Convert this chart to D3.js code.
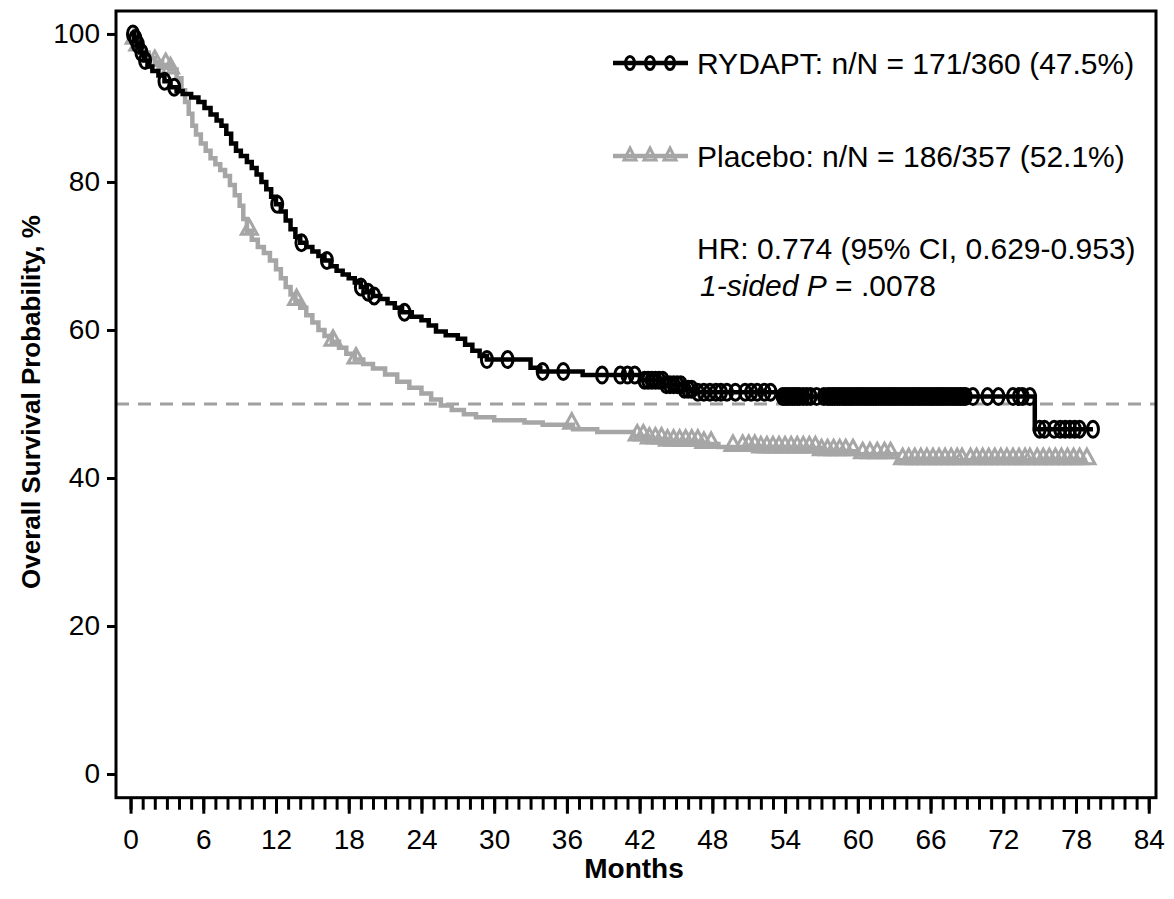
<!DOCTYPE html>
<html>
<head>
<meta charset="utf-8">
<script src="https://cdn.jsdelivr.net/npm/d3@7"></script>
<style>
  body { margin: 0; background: #fff; }
  text { font-family: "Liberation Sans", Arial, sans-serif; }
</style>
</head>
<body>
<div id="km"></div>
<script>
// KM step data (months, survival %)
var rydaptTime = [0, 0.3, 0.5, 0.8, 1.1, 1.4, 1.8, 2.3, 2.8, 3.3, 3.8, 4.3, 5.0, 5.6, 6.1, 6.6, 7.1, 7.5, 7.9, 8.3, 8.7, 9.1, 9.6, 10.0, 10.4, 10.8, 11.2, 11.6, 12.0, 12.4, 12.8, 13.2, 13.6, 14.0, 14.5, 15.0, 15.5, 16.0, 16.5, 17.0, 17.5, 18.0, 18.5, 19.0, 19.5, 20.0, 20.6, 21.2, 21.8, 22.4, 23.2, 24.0, 24.6, 25.2, 26.0, 27.0, 27.6, 28.2, 28.8, 29.4, 33.0, 33.8, 37.3, 42.2, 44.0, 45.6, 46.5, 53.6, 74.6, 79.4];
var rydaptSurv = [100, 99.4, 98.6, 97.5, 96.4, 95.6, 95.0, 94.4, 93.6, 92.8, 92.3, 91.9, 91.4, 90.8, 90.0, 89.1, 88.3, 87.6, 86.5, 85.2, 84.2, 83.5, 82.7, 81.9, 81.0, 80.0, 79.0, 78.0, 77.0, 76.0, 74.8, 73.6, 72.6, 71.8, 71.2, 70.6, 70.0, 69.4, 68.6, 68.0, 67.5, 67.0, 66.4, 65.8, 65.1, 64.6, 64.2, 63.6, 63.0, 62.4, 61.8, 61.3, 60.6, 59.8, 59.3, 58.8, 58.0, 57.2, 56.5, 56.0, 54.9, 54.4, 53.9, 53.2, 52.6, 52.0, 51.6, 51.0, 46.6, 46.6];
var rydaptCensor = [0.2, 0.4, 0.6, 0.9, 1.2, 2.8, 3.6, 12.1, 14.1, 16.2, 19.0, 19.6, 20.1, 22.6, 29.4, 31.1, 34.0, 35.7, 38.9, 40.4, 41.0, 41.6, 42.4, 42.7, 43.0, 43.3, 43.6, 43.9, 44.2, 44.5, 44.8, 45.1, 45.4, 45.7, 46.0, 46.3, 46.8, 47.3, 47.8, 48.3, 48.7, 49.2, 49.9, 50.7, 51.2, 51.7, 52.3, 52.8, 53.8, 54.0, 54.2, 54.4, 54.6, 54.8, 55.0, 55.2, 55.5, 55.8, 56.1, 56.6, 57.2, 57.5, 57.7, 57.9, 58.1, 58.3, 58.5, 58.7, 58.9, 59.1, 59.3, 59.5, 59.7, 59.9, 60.1, 60.3, 60.5, 60.7, 60.9, 61.1, 61.3, 61.5, 61.7, 61.9, 62.1, 62.3, 62.5, 62.7, 62.9, 63.1, 63.3, 63.5, 63.7, 63.9, 64.1, 64.3, 64.5, 64.7, 64.9, 65.1, 65.3, 65.5, 65.7, 65.9, 66.1, 66.3, 66.5, 66.7, 66.9, 67.1, 67.3, 67.5, 67.7, 67.9, 68.1, 68.3, 68.5, 68.7, 68.9, 69.5, 70.7, 71.6, 72.8, 73.3, 73.6, 74.2, 75.0, 75.4, 76.2, 76.7, 77.1, 77.5, 77.9, 78.3, 79.4];

var placeboTime = [0, 0.3, 0.6, 1.0, 1.5, 2.0, 2.6, 3.2, 3.8, 4.2, 4.5, 4.8, 5.1, 5.4, 5.8, 6.2, 6.6, 7.0, 7.4, 7.8, 8.2, 8.6, 9.0, 9.3, 9.6, 10.0, 10.5, 11.0, 11.5, 12.0, 12.4, 12.8, 13.2, 13.6, 14.0, 14.5, 15.0, 15.5, 16.0, 16.6, 17.2, 17.8, 18.5, 19.2, 20.0, 21.0, 22.0, 23.0, 24.0, 24.8, 25.6, 26.5, 27.5, 28.5, 30.0, 32.5, 34.0, 36.5, 38.5, 41.5, 42.5, 44.0, 47.0, 48.5, 52.0, 57.0, 60.0, 63.3, 78.9];
var placeboSurv = [100, 99.2, 98.3, 97.5, 96.8, 96.2, 95.8, 95.2, 94.0, 92.4, 90.8, 89.2, 87.6, 86.4, 85.2, 84.2, 83.2, 82.4, 81.6, 80.8, 79.6, 78.2, 76.8, 75.0, 73.4, 72.2, 71.2, 70.4, 69.4, 68.2, 67.0, 65.8, 64.8, 63.9, 63.0, 62.0, 61.0, 60.0, 59.2, 58.4, 57.6, 56.8, 56.0, 55.4, 54.8, 54.0, 53.0, 52.2, 51.4, 50.6, 49.8, 49.2, 48.6, 48.2, 47.8, 47.5, 47.2, 46.6, 46.2, 45.6, 45.2, 44.9, 44.6, 44.2, 44.0, 43.6, 43.2, 42.4, 42.4];
var placeboCensor = [0.3, 0.6, 2.0, 2.9, 3.3, 9.8, 13.7, 16.7, 18.6, 36.4, 41.8, 42.3, 42.8, 43.3, 43.8, 44.3, 44.8, 45.3, 45.8, 46.3, 46.8, 47.3, 47.9, 49.7, 50.5, 51.0, 51.5, 52.0, 52.5, 53.0, 53.5, 54.0, 54.5, 55.0, 55.5, 56.0, 56.5, 57.0, 57.5, 58.0, 58.5, 59.0, 59.6, 60.4, 61.0, 61.6, 62.2, 62.7, 63.7, 64.2, 64.7, 65.2, 65.7, 66.2, 66.7, 67.2, 67.7, 68.2, 68.6, 69.3, 69.8, 70.3, 70.8, 71.3, 71.8, 72.3, 72.8, 73.3, 73.8, 74.2, 74.8, 75.3, 75.8, 76.3, 76.8, 77.3, 77.8, 78.3, 78.9];

var xTicks = [0, 6, 12, 18, 24, 30, 36, 42, 48, 54, 60, 66, 72, 78, 84];
var xMinorTicks = d3.range(0, 85, 1);
var yTicks = [0, 20, 40, 60, 80, 100];
var legendLabels = ["RYDAPT: n/N = 171/360 (47.5%)", "Placebo: n/N = 186/357 (52.1%)"];
var hrText = "HR: 0.774 (95% CI, 0.629-0.953)";

var svgWidth = 1174;
var svgHeight = 899;

var black = "#000000";
var grey = "#a6a6a6";

var svg = d3.select("#km")
    .append("svg")
    .attr("width", svgWidth)
    .attr("height", svgHeight);

// scales
var xScale = d3.scaleLinear().domain([-1.2, 84.6]).range([116, 1156]);
var yScale = d3.scaleLinear().domain([-3.2, 103.1]).range([797.7, 11]);

// reference line at 50%
svg.append("line")
    .attr("x1", xScale(-1.2)).attr("x2", xScale(84.6))
    .attr("y1", yScale(50)).attr("y2", yScale(50))
    .attr("stroke", "#a0a0a0")
    .attr("stroke-width", 3)
    .attr("stroke-dasharray", "13,9");

// frame
svg.append("rect")
    .attr("x", xScale(-1.2)).attr("y", yScale(103.1))
    .attr("width", xScale(84.6) - xScale(-1.2))
    .attr("height", yScale(-3.2) - yScale(103.1))
    .attr("fill", "none")
    .attr("stroke", black)
    .attr("stroke-width", 3);

// x axis with monthly minor ticks
var xMinor = d3.axisBottom(xScale).tickValues(xMinorTicks).tickSize(12).tickFormat("");
var xAxis = d3.axisBottom(xScale).tickValues(xTicks).tickSize(16).tickPadding(15);

svg.append("g")
    .attr("class", "xMinor")
    .attr("transform", `translate(0, ${yScale(-3.2)})`)
    .call(xMinor);

svg.append("g")
    .attr("class", "xAxis")
    .attr("transform", `translate(0, ${yScale(-3.2)})`)
    .call(xAxis);

var yAxis = d3.axisLeft(yScale).tickValues(yTicks).tickSize(9).tickPadding(7);
svg.append("g")
    .attr("class", "yAxis")
    .attr("transform", `translate(${xScale(-1.2)}, 0)`)
    .call(yAxis);

svg.selectAll(".xAxis .domain, .xMinor .domain, .yAxis .domain").remove();
svg.selectAll(".xAxis line, .xMinor line, .yAxis line")
    .attr("stroke", black)
    .attr("stroke-width", 3);
svg.selectAll(".xAxis text, .yAxis text")
    .attr("font-size", 28)
    .attr("fill", black);

// axis titles
svg.append("text")
    .attr("x", 634).attr("y", 878)
    .attr("text-anchor", "middle")
    .attr("font-size", 28)
    .attr("font-weight", "bold")
    .text("Months");

svg.append("text")
    .attr("transform", "translate(40, 402) rotate(-90)")
    .attr("text-anchor", "middle")
    .attr("font-size", 26)
    .attr("font-weight", "bold")
    .text("Overall Survival Probability, %");

// step curves
function toPoints(times, surv) {
    return times.map((t, i) => [t, surv[i]]);
}
function survAt(times, surv, t) {
    var i = d3.bisectRight(times, t) - 1;
    return surv[Math.max(i, 0)];
}

var stepLine = d3.line()
    .x(d => xScale(d[0]))
    .y(d => yScale(d[1]))
    .curve(d3.curveStepAfter);

var triangle = "M0,-11L8,3.5L-8,3.5Z";

// placebo (drawn first, sits under RYDAPT)
svg.append("path")
    .datum(toPoints(placeboTime, placeboSurv))
    .attr("d", stepLine)
    .attr("fill", "none")
    .attr("stroke", grey)
    .attr("stroke-width", 4.5);

svg.selectAll(".pcens")
    .data(placeboCensor)
    .enter()
    .append("path")
    .attr("class", "pcens")
    .attr("d", triangle)
    .attr("transform", d => `translate(${xScale(d)}, ${yScale(survAt(placeboTime, placeboSurv, d))})`)
    .attr("fill", "none")
    .attr("stroke", grey)
    .attr("stroke-width", 3);

svg.append("path")
    .datum(toPoints(rydaptTime, rydaptSurv))
    .attr("d", stepLine)
    .attr("fill", "none")
    .attr("stroke", black)
    .attr("stroke-width", 4.5);

svg.selectAll(".rcens")
    .data(rydaptCensor)
    .enter()
    .append("ellipse")
    .attr("class", "rcens")
    .attr("cx", d => xScale(d))
    .attr("cy", d => yScale(survAt(rydaptTime, rydaptSurv, d)))
    .attr("rx", 5.5)
    .attr("ry", 8)
    .attr("fill", "none")
    .attr("stroke", black)
    .attr("stroke-width", 3);

// legend
var legend = svg.append("g").attr("class", "legend");
var legendRows = [
    {label: legendLabels[0], color: black, y: 63, marker: "circle"},
    {label: legendLabels[1], color: grey, y: 156, marker: "triangle"}
];

legendRows.forEach(function(r) {
    legend.append("line")
        .attr("x1", 613).attr("x2", 688)
        .attr("y1", r.y).attr("y2", r.y)
        .attr("stroke", r.color)
        .attr("stroke-width", 4.5);
    [630, 650, 670].forEach(function(mx) {
        if (r.marker === "circle") {
            legend.append("ellipse")
                .attr("cx", mx).attr("cy", r.y)
                .attr("rx", 4.5).attr("ry", 6.5)
                .attr("fill", "none")
                .attr("stroke", r.color)
                .attr("stroke-width", 3);
        } else {
            legend.append("path")
                .attr("d", "M0,-10L6,2L-6,2Z")
                .attr("transform", `translate(${mx}, ${r.y + 2})`)
                .attr("fill", "none")
                .attr("stroke", r.color)
                .attr("stroke-width", 3);
        }
    });
    legend.append("text")
        .attr("x", 697).attr("y", r.y)
        .attr("dy", "0.35em")
        .attr("font-size", 30)
        .text(r.label);
});

legend.append("text")
    .attr("x", 697).attr("y", 248)
    .attr("dy", "0.35em")
    .attr("font-size", 30)
    .text(hrText);

var pText = legend.append("text")
    .attr("x", 700).attr("y", 285)
    .attr("dy", "0.35em")
    .attr("font-size", 30);
pText.append("tspan").attr("font-style", "italic").text("1-sided P");
pText.append("tspan").text(" = .0078");
</script>
</body>
</html>
